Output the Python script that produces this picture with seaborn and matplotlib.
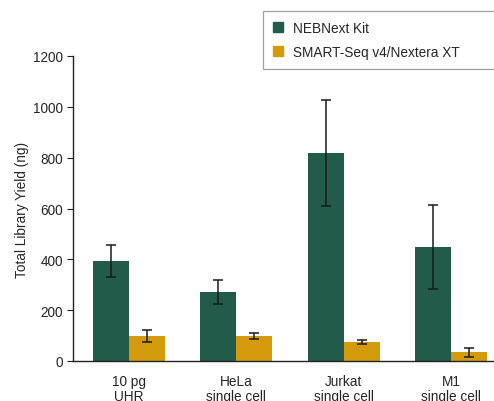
import pandas as pd
import numpy as np
import matplotlib.pyplot as plt
import seaborn as sns

# data
samples = ['10 pg\nUHR', 'HeLa\nsingle cell', 'Jurkat\nsingle cell', 'M1\nsingle cell']
kits = ['NEBNext Kit', 'SMART-Seq v4/Nextera XT']
neb_yield = [393, 271, 818, 449]
neb_err = [63, 46, 207, 166]
smart_yield = [98, 98, 74, 35]
smart_err = [24, 12, 8, 18]

df = pd.DataFrame({
    'Sample': samples * 2,
    'Kit': [kits[0]] * 4 + [kits[1]] * 4,
    'Yield': neb_yield + smart_yield,
    'Err': neb_err + smart_err,
})

sns.set_style('white')
plt.rcParams['font.family'] = ['Liberation Sans', 'DejaVu Sans']
plt.rcParams['font.size'] = 9.8

fig = plt.figure(figsize=(4.94, 4.02), dpi=100)
ax = fig.add_axes([73 / 494, 1 - 362 / 402, 1 - 73 / 494, (362 - 57) / 402])

sns.barplot(data=df, x='Sample', y='Yield', hue='Kit', order=samples, hue_order=kits,
            palette=['#225B4C', '#D39B0C'], width=0.67, errorbar=None,
            saturation=1, linewidth=0, ax=ax, legend=True)

# error bars on top of each bar
errs = [neb_err, smart_err]
for cont, e in zip(ax.containers, errs):
    xs = [p.get_x() + p.get_width() / 2 for p in cont.patches]
    ys = [p.get_height() for p in cont.patches]
    ax.errorbar(xs, ys, yerr=e, fmt='none', ecolor='#1a1a1a', elinewidth=1.1,
                capsize=3.5, capthick=1.1)

ax.set_ylim(0, 1200)
ax.set_xlim(-0.52, 3.40)
ax.set_yticks(range(0, 1201, 200))
ax.set_xlabel('')
ax.set_ylabel('Total Library Yield (ng)', labelpad=3)
ax.tick_params(axis='y', which='both', left=True, length=4, width=0.8, pad=3, color='#222222')
ax.tick_params(axis='x', bottom=False, pad=6)
for lab in ax.get_xticklabels():
    lab.set_linespacing(1.1)
sns.despine(ax=ax, top=True, right=True)
for s in ['left', 'bottom']:
    ax.spines[s].set_color('#222222')
    ax.spines[s].set_linewidth(1.0)

ax.legend_.remove()
handles = [plt.Rectangle((0, 0), 1, 1, color=c) for c in ['#225B4C', '#D39B0C']]
leg = fig.legend(handles, kits, loc='upper left',
                 bbox_to_anchor=(263 / 494, 1 - 67 / 402, 0.5, 55 / 402),
                 mode='expand', fancybox=False, edgecolor='#888888',
                 handlelength=0.75, handleheight=0.75, handletextpad=0.7,
                 labelspacing=0.7, borderpad=0.75, borderaxespad=0, fontsize=9.8)
leg.get_frame().set_linewidth(0.9)

plt.savefig('out.png', dpi=100)
